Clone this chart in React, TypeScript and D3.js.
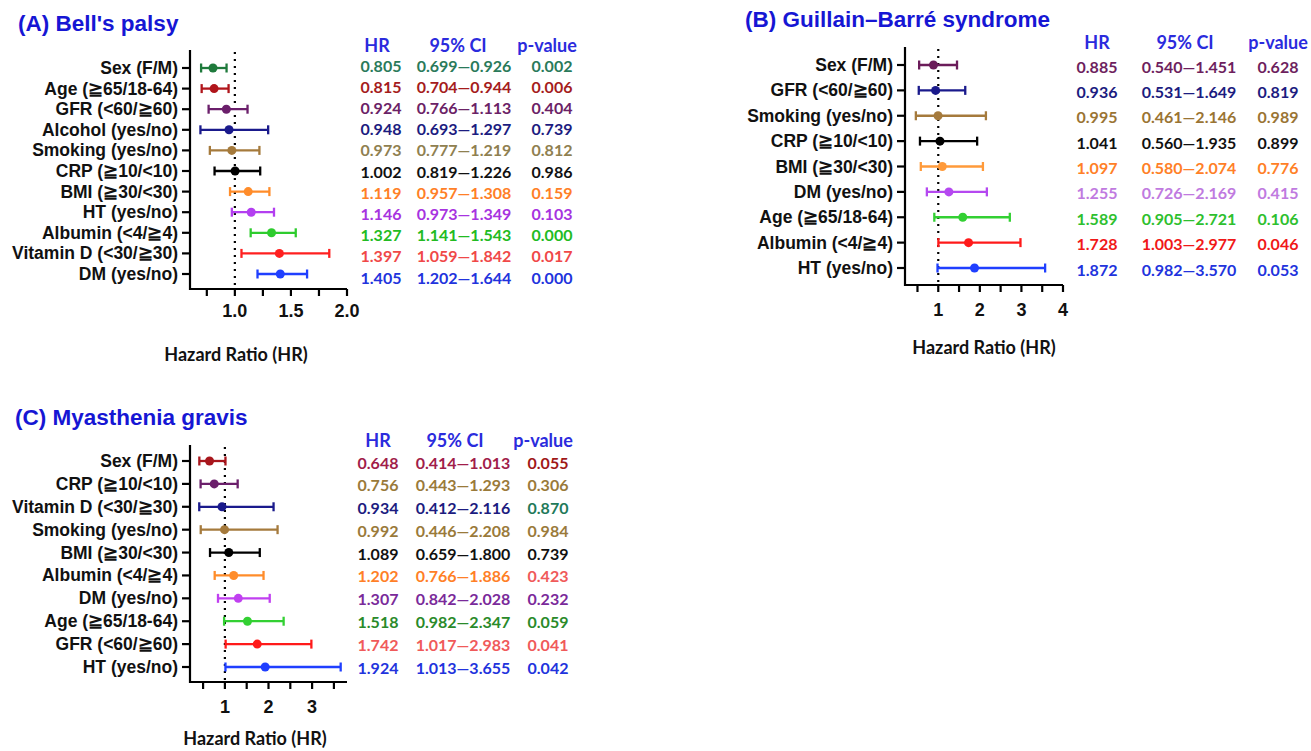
import React from "react";
import * as d3 from "d3";

// Panel A: Bell's palsy
const labelsA = ["Sex (F/M)", "Age (≧65/18-64)", "GFR (<60/≧60)", "Alcohol (yes/no)", "Smoking (yes/no)", "CRP (≧10/<10)", "BMI (≧30/<30)", "HT (yes/no)", "Albumin (<4/≧4)", "Vitamin D (<30/≧30)", "DM (yes/no)"];
const hrA = [0.805, 0.815, 0.924, 0.948, 0.973, 1.002, 1.119, 1.146, 1.327, 1.397, 1.405];
const lowA = [0.699, 0.704, 0.766, 0.693, 0.777, 0.819, 0.957, 0.973, 1.141, 1.059, 1.202];
const highA = [0.926, 0.944, 1.113, 1.297, 1.219, 1.226, 1.308, 1.349, 1.543, 1.842, 1.644];
const pA = [0.002, 0.006, 0.404, 0.739, 0.812, 0.986, 0.159, 0.103, 0.0, 0.017, 0.0];
const barColA = ["#1f7a3c", "#b0151b", "#6b1f6b", "#1a1a8c", "#a57a3c", "#000000", "#ff8c2a", "#b33ff0", "#2ecc2e", "#ff2020", "#1f3fff"];
const txtColA = ["#2a7a5a", "#a51c1c", "#6b2266", "#1c1c80", "#8f8050", "#111111", "#ff7f27", "#a733e0", "#22bb22", "#f04848", "#2233dd"];
const ticksA = [0.75, 1.0, 1.25, 1.5, 1.75, 2.0];
const tickLabelsA = ["1.0", "1.5", "2.0"];

// Panel B: Guillain–Barré syndrome
const labelsB = ["Sex (F/M)", "GFR (<60/≧60)", "Smoking (yes/no)", "CRP (≧10/<10)", "BMI (≧30/<30)", "DM (yes/no)", "Age (≧65/18-64)", "Albumin (<4/≧4)", "HT (yes/no)"];
const hrB = [0.885, 0.936, 0.995, 1.041, 1.097, 1.255, 1.589, 1.728, 1.872];
const lowB = [0.540, 0.531, 0.461, 0.560, 0.580, 0.726, 0.905, 1.003, 0.982];
const highB = [1.451, 1.649, 2.146, 1.935, 2.074, 2.169, 2.721, 2.977, 3.570];
const pB = [0.628, 0.819, 0.989, 0.899, 0.776, 0.415, 0.106, 0.046, 0.053];
const barColB = ["#6b1c5a", "#1a1a8c", "#a57a3c", "#000000", "#ff9a3a", "#b548f0", "#33d033", "#ff1a1a", "#1f3fff"];
const txtColB = ["#6e1f5e", "#1c1c80", "#9a7433", "#111111", "#ff7f27", "#c07ae0", "#2ec02e", "#f01818", "#2233dd"];
const ticksB = [0.5, 1, 1.5, 2, 2.5, 3, 3.5, 4];
const tickLabelsB = ["1", "2", "3", "4"];

// Panel C: Myasthenia gravis
const labelsC = ["Sex (F/M)", "CRP (≧10/<10)", "Vitamin D (<30/≧30)", "Smoking (yes/no)", "BMI (≧30/<30)", "Albumin (<4/≧4)", "DM (yes/no)", "Age (≧65/18-64)", "GFR (<60/≧60)", "HT (yes/no)"];
const hrC = [0.648, 0.756, 0.934, 0.992, 1.089, 1.202, 1.307, 1.518, 1.742, 1.924];
const lowC = [0.414, 0.443, 0.412, 0.446, 0.659, 0.766, 0.842, 0.982, 1.017, 1.013];
const highC = [1.013, 1.293, 2.116, 2.208, 1.800, 1.886, 2.028, 2.347, 2.983, 3.655];
const pC = [0.055, 0.306, 0.870, 0.984, 0.739, 0.423, 0.232, 0.059, 0.041, 0.042];
const barColC = ["#a8161c", "#6b1f6b", "#1a1a8c", "#a57a3c", "#000000", "#ff8c2a", "#c040f0", "#33d033", "#ff1a1a", "#1f3fff"];
const txtColC = ["#a11d4a", "#9a7a3a", "#1c1c80", "#9a7a3a", "#111111", "#ff7f27", "#7a2a9a", "#2a8a2a", "#f05a5a", "#2233dd"];
const pColC = ["#a01818", "#9a7a3a", "#1f7a5a", "#9a7a3a", "#111111", "#f05a5a", "#7a2a9a", "#2a8a2a", "#f05a5a", "#2233dd"];
const ticksC = [0.5, 1, 1.5, 2, 2.5, 3, 3.5];
const tickLabelsC = ["1", "2", "3"];

const LABEL_FONT = "'Liberation Sans', Arial, sans-serif";
const TABLE_FONT = "Lato, 'Open Sans', sans-serif";
const BLUE = "#1616d4";
const HEAD_BLUE = "#2b2bdd";

type PanelProps = {
  title: string; titleX: number; titleY: number;
  labels: string[]; hr: number[]; low: number[]; high: number[]; p: number[];
  barCol: string[]; txtCol: string[]; pCol?: string[];
  domain: [number, number]; xRange: [number, number];
  ticks: number[]; tickLabels: string[];
  axisTop: number; axisBottom: number; rowRange: [number, number];
  tableRows: [number, number]; cols: number[]; headCols: number[]; headY: number;
  tickLabelY: number; xTitle: [number, number];
};

function Panel(pr: PanelProps) {
  const x = d3.scaleLinear().domain(pr.domain).range(pr.xRange);
  const y = d3.scalePoint<string>().domain(pr.labels).range(pr.rowRange);
  const ty = d3.scalePoint<string>().domain(pr.labels).range(pr.tableRows);
  const x0 = pr.xRange[0];
  const fmt = d3.format(".3f");
  return (
    <g>
      <text x={pr.titleX} y={pr.titleY} fill={BLUE} fontFamily={LABEL_FONT} fontWeight="bold" fontSize={22.5}>{pr.title}</text>
      {/* reference line at HR = 1 */}
      <line x1={x(1)} x2={x(1)} y1={pr.axisTop + 2} y2={pr.axisBottom} stroke="#000" strokeWidth={2.2} strokeDasharray="2,5" />
      {/* axes */}
      <path d={`M${x0},${pr.axisTop}V${pr.axisBottom}H${pr.xRange[1]}`} fill="none" stroke="#000" strokeWidth={2.2} />
      {pr.ticks.map((t) => (
        <line key={"t" + t} x1={x(t)} x2={x(t)} y1={pr.axisBottom} y2={pr.axisBottom + 7} stroke="#000" strokeWidth={2.2} />
      ))}
      {pr.tickLabels.map((t) => (
        <text key={"tl" + t} x={x(+t)} y={pr.tickLabelY} textAnchor="middle" dominantBaseline="central" fontFamily={LABEL_FONT} fontWeight="bold" fontSize={18} fill="#111">{t}</text>
      ))}
      <text x={pr.xTitle[0]} y={pr.xTitle[1]} textAnchor="middle" dominantBaseline="central" fontFamily={TABLE_FONT} fontWeight="bold" fontSize={18} fill="#111">Hazard Ratio (HR)</text>
      {pr.labels.map((l, i) => {
        const yy = y(l) as number;
        const c = pr.barCol[i];
        return (
          <g key={l}>
            <line x1={x0 - 8} x2={x0} y1={yy} y2={yy} stroke="#000" strokeWidth={2.2} />
            <text x={x0 - 12} y={yy} textAnchor="end" dominantBaseline="central" fontFamily={LABEL_FONT} fontWeight="bold" fontSize={17.5} fill="#111">{l}</text>
            <line x1={x(pr.low[i])} x2={x(pr.high[i])} y1={yy} y2={yy} stroke={c} strokeWidth={2.3} />
            <line x1={x(pr.low[i])} x2={x(pr.low[i])} y1={yy - 4.5} y2={yy + 4.5} stroke={c} strokeWidth={2.3} />
            <line x1={x(pr.high[i])} x2={x(pr.high[i])} y1={yy - 4.5} y2={yy + 4.5} stroke={c} strokeWidth={2.3} />
            <circle cx={x(pr.hr[i])} cy={yy} r={4.5} fill={c} />
          </g>
        );
      })}
      {["HR", "95% CI", "p-value"].map((h, j) => (
        <text key={h} x={pr.headCols[j]} y={pr.headY} textAnchor="middle" dominantBaseline="central" fontFamily={TABLE_FONT} fontWeight="bold" fontSize={18} fill={HEAD_BLUE}>{h}</text>
      ))}
      {pr.labels.map((l, i) => {
        const yy = ty(l) as number;
        const c = pr.txtCol[i];
        const pc = pr.pCol ? pr.pCol[i] : c;
        return (
          <g key={"r" + l} fontFamily={TABLE_FONT} fontWeight="bold" fontSize={16} textAnchor="middle" dominantBaseline="central">
            <text x={pr.cols[0]} y={yy} fill={c}>{fmt(pr.hr[i])}</text>
            <text x={pr.cols[1]} y={yy} fill={c}>{fmt(pr.low[i]) + "—" + fmt(pr.high[i])}</text>
            <text x={pr.cols[2]} y={yy} fill={pc}>{fmt(pr.p[i])}</text>
          </g>
        );
      })}
    </g>
  );
}

export default function App() {
  return (
    <svg width={1311} height={751} style={{ position: "absolute", left: 0, top: 0, background: "#fff" }}>
      <Panel title="(A) Bell's palsy" titleX={18} titleY={31}
        labels={labelsA} hr={hrA} low={lowA} high={highA} p={pA} barCol={barColA} txtCol={txtColA}
        domain={[0.6, 2.0]} xRange={[190, 347]} ticks={ticksA} tickLabels={tickLabelsA}
        axisTop={50} axisBottom={289} rowRange={[68, 274]} tableRows={[65, 277]}
        cols={[381, 464, 552]} headCols={[377, 458, 547]} headY={45} tickLabelY={311} xTitle={[236, 354]} />
      <Panel title="(B) Guillain–Barré syndrome" titleX={745} titleY={27}
        labels={labelsB} hr={hrB} low={lowB} high={highB} p={pB} barCol={barColB} txtCol={txtColB}
        domain={[0.2, 4]} xRange={[905, 1063]} ticks={ticksB} tickLabels={tickLabelsB}
        axisTop={47} axisBottom={285} rowRange={[65, 268]} tableRows={[66, 269]}
        cols={[1097, 1189, 1278]} headCols={[1097, 1185, 1278]} headY={42} tickLabelY={310} xTitle={[984, 347]} />
      <Panel title="(C) Myasthenia gravis" titleX={15} titleY={425}
        labels={labelsC} hr={hrC} low={lowC} high={highC} p={pC} barCol={barColC} txtCol={txtColC} pCol={pColC}
        domain={[0.2, 3.8]} xRange={[190, 347]} ticks={ticksC} tickLabels={tickLabelsC}
        axisTop={445} axisBottom={682} rowRange={[461, 667]} tableRows={[462, 667]}
        cols={[378, 463, 548]} headCols={[378, 455, 543]} headY={440} tickLabelY={707} xTitle={[255, 738]} />
    </svg>
  );
}
